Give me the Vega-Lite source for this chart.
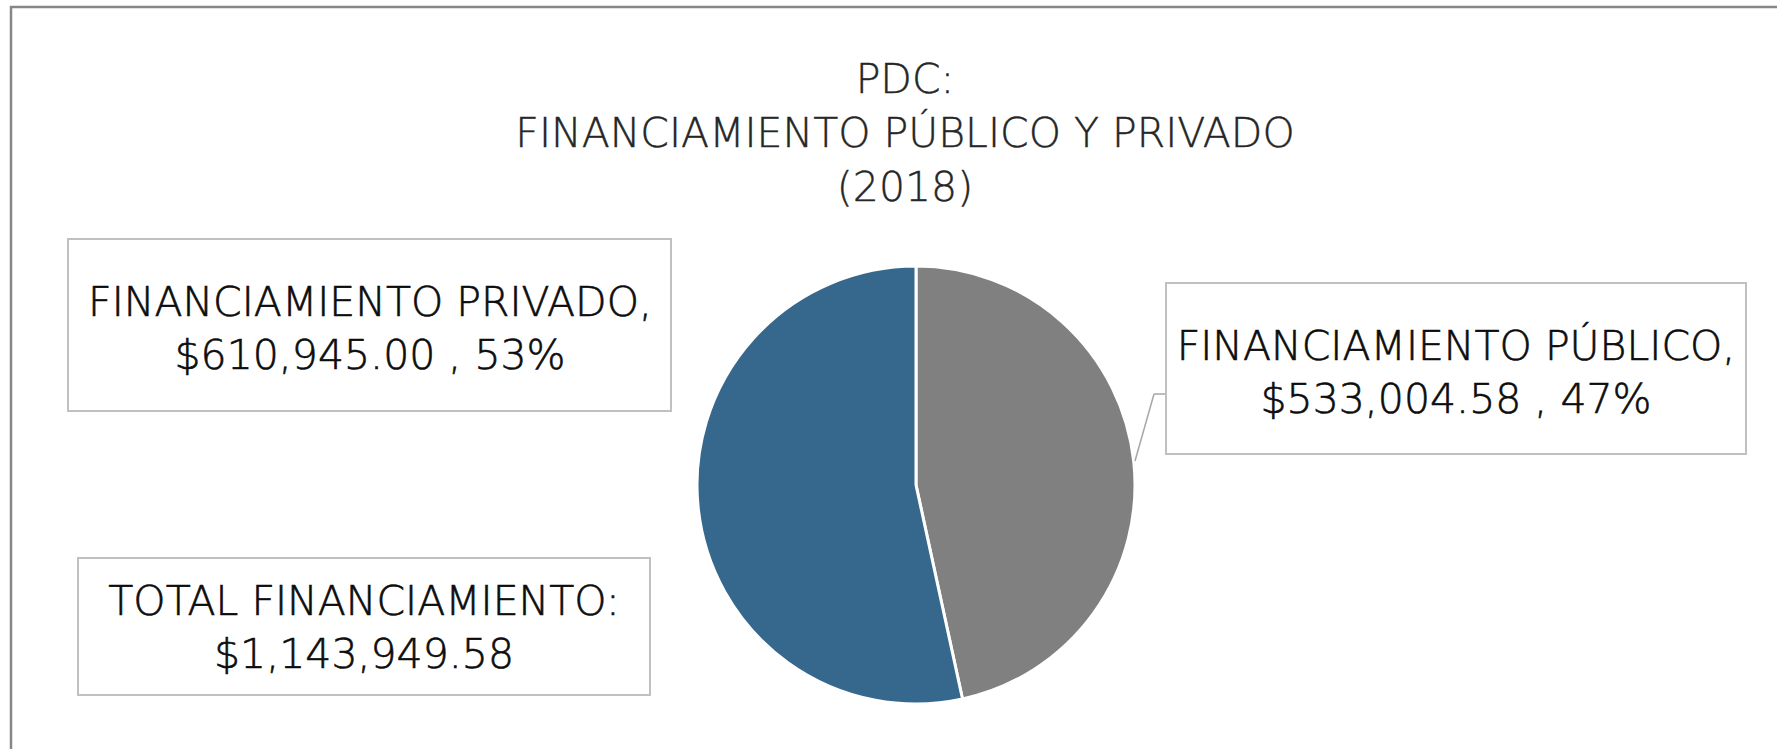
{
  "$schema": "https://vega.github.io/schema/vega-lite/v6.json",
  "width": 1777,
  "height": 749,
  "autosize": {"type": "fit", "contains": "padding"},
  "padding": 0,
  "background": "white",
  "config": {"view": {"stroke": null}},
  "data": {
    "values": [
      {"segment": "FINANCIAMIENTO PÚBLICO", "value": 533004.58, "label": "FINANCIAMIENTO PÚBLICO,\n$533,004.58 , 47%"},
      {"segment": "FINANCIAMIENTO PRIVADO", "value": 610945.00, "label": "FINANCIAMIENTO PRIVADO,\n$610,945.00 , 53%"}
    ]
  },
  "layer": [
    {
      "transform": [{"aggregate": [{"op": "sum", "field": "value", "as": "total"}]}],
      "layer": [
        {
          "mark": {"type": "rect", "fill": "transparent", "stroke": "#878787", "strokeWidth": 2.5},
          "encoding": {"x": {"value": 11}, "x2": {"value": 1800}, "y": {"value": 7}, "y2": {"value": 790}}
        },
        {
          "mark": {"type": "text", "font": "DejaVu Sans", "fontSize": 41, "fontWeight": 300, "fill": "#262626", "stroke": "#262626", "strokeWidth": 0.4, "align": "center", "baseline": "alphabetic", "lineHeight": 54},
          "encoding": {"x": {"value": 905}, "y": {"value": 93}, "text": {"value": ["PDC:", "FINANCIAMIENTO PÚBLICO Y PRIVADO", "(2018)"]}}
        },
        {
          "mark": {"type": "rect", "fill": "white", "stroke": "#c0c0c0", "strokeWidth": 2},
          "encoding": {"x": {"value": 78}, "x2": {"value": 650}, "y": {"value": 558}, "y2": {"value": 695}}
        },
        {
          "mark": {"type": "text", "font": "DejaVu Sans", "fontSize": 41, "fontWeight": 300, "fill": "#0d0d0d", "stroke": "#0d0d0d", "strokeWidth": 0.6, "align": "center", "baseline": "alphabetic"},
          "encoding": {"x": {"value": 364}, "y": {"value": 615}, "text": {"value": "TOTAL FINANCIAMIENTO:"}}
        },
        {
          "mark": {"type": "text", "font": "DejaVu Sans", "fontSize": 41, "fontWeight": 300, "fill": "#0d0d0d", "stroke": "#0d0d0d", "strokeWidth": 0.6, "align": "center", "baseline": "alphabetic"},
          "encoding": {"x": {"value": 364}, "y": {"value": 668}, "text": {"field": "total", "type": "quantitative", "format": "$,.2f"}}
        }
      ]
    },
    {
      "mark": {"type": "arc", "outerRadius": 219, "stroke": "white", "strokeWidth": 3},
      "encoding": {
        "theta": {"field": "value", "type": "quantitative", "stack": true},
        "order": {"field": "value", "type": "quantitative", "sort": "ascending"},
        "color": {
          "field": "segment",
          "type": "nominal",
          "scale": {"domain": ["FINANCIAMIENTO PÚBLICO", "FINANCIAMIENTO PRIVADO"], "range": ["#808080", "#36678D"]},
          "legend": null
        },
        "x": {"value": 916},
        "y": {"value": 485}
      }
    },
    {
      "transform": [{"filter": "datum.segment === 'FINANCIAMIENTO PRIVADO'"}],
      "layer": [
        {
          "mark": {"type": "rect", "fill": "white", "stroke": "#c0c0c0", "strokeWidth": 2},
          "encoding": {"x": {"value": 68}, "x2": {"value": 671}, "y": {"value": 239}, "y2": {"value": 411}}
        },
        {
          "mark": {"type": "text", "font": "DejaVu Sans", "fontSize": 41, "fontWeight": 300, "fill": "#0d0d0d", "stroke": "#0d0d0d", "strokeWidth": 0.6, "align": "center", "baseline": "alphabetic", "lineBreak": "\n", "lineHeight": 53},
          "encoding": {"x": {"value": 370}, "y": {"value": 316}, "text": {"field": "label", "type": "nominal"}}
        }
      ]
    },
    {
      "transform": [{"filter": "datum.segment === 'FINANCIAMIENTO PÚBLICO'"}],
      "layer": [
        {
          "mark": {"type": "rule", "stroke": "#a6a6a6", "strokeWidth": 1.5},
          "encoding": {"x": {"value": 1154}, "x2": {"value": 1166}, "y": {"value": 394}, "y2": {"value": 394}}
        },
        {
          "mark": {"type": "rule", "stroke": "#a6a6a6", "strokeWidth": 1.5},
          "encoding": {"x": {"value": 1154}, "x2": {"value": 1135}, "y": {"value": 394}, "y2": {"value": 461}}
        },
        {
          "mark": {"type": "rect", "fill": "white", "stroke": "#c0c0c0", "strokeWidth": 2},
          "encoding": {"x": {"value": 1166}, "x2": {"value": 1746}, "y": {"value": 283}, "y2": {"value": 454}}
        },
        {
          "mark": {"type": "text", "font": "DejaVu Sans", "fontSize": 41, "fontWeight": 300, "fill": "#0d0d0d", "stroke": "#0d0d0d", "strokeWidth": 0.6, "align": "center", "baseline": "alphabetic", "lineBreak": "\n", "lineHeight": 53},
          "encoding": {"x": {"value": 1456}, "y": {"value": 360}, "text": {"field": "label", "type": "nominal"}}
        }
      ]
    }
  ]
}
